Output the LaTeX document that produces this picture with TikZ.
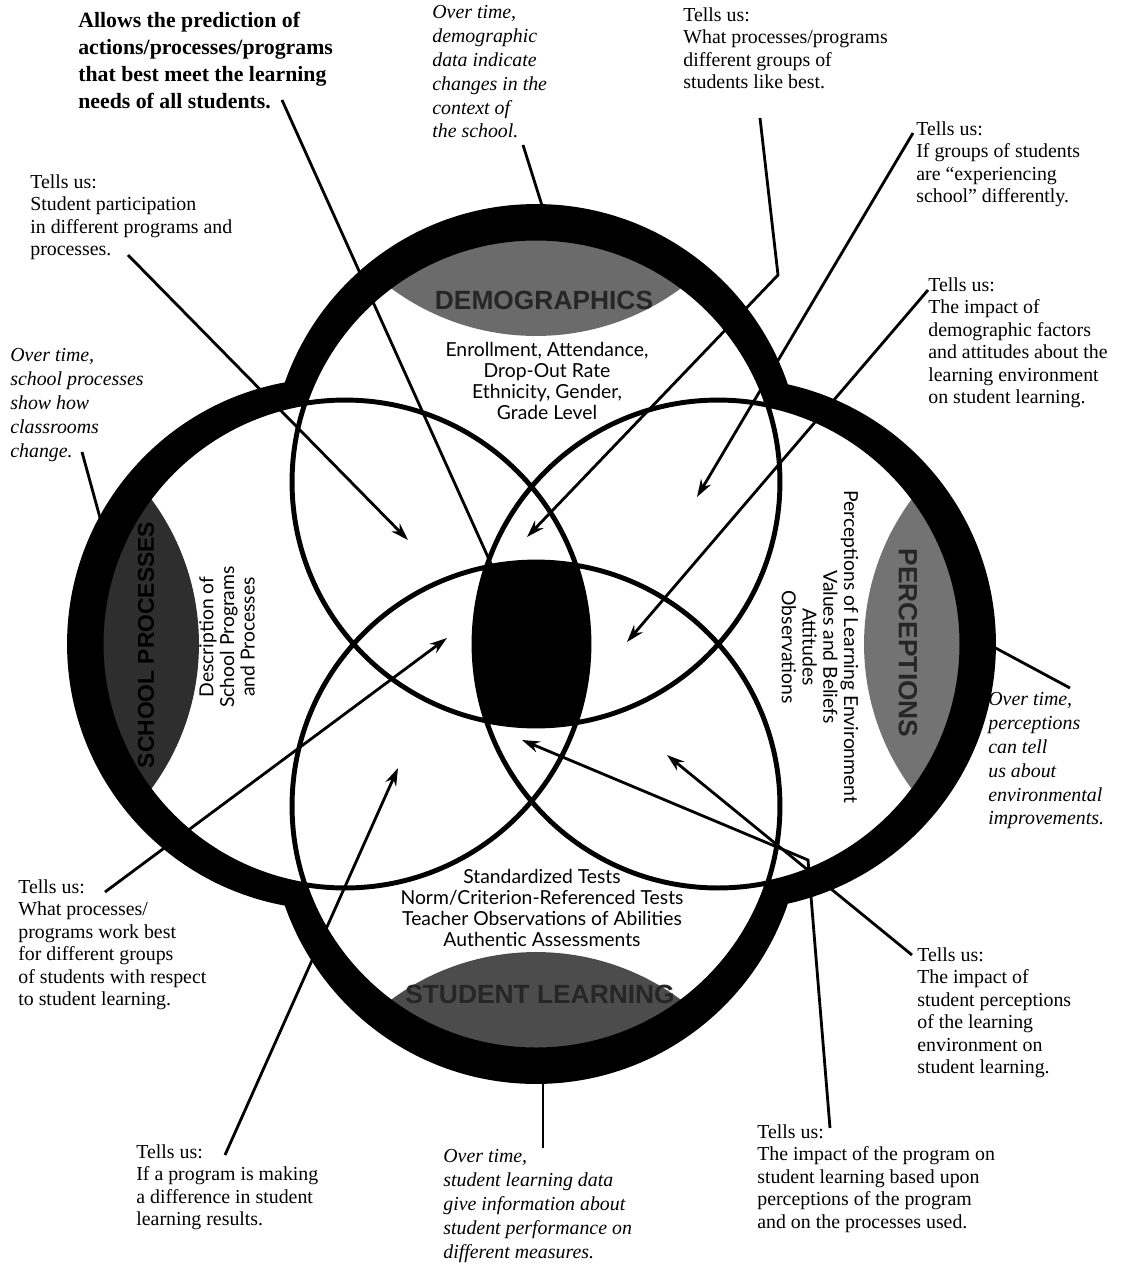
\documentclass[tikz,border=0pt]{standalone}
\usepackage{fontspec}
\setmainfont{Liberation Serif}
\newfontfamily\circfont{Lato}
\newfontfamily\lensfont{Liberation Sans}
\usetikzlibrary{arrows.meta}
\definecolor{DemoGray}{gray}{0.42}
\definecolor{ProcGray}{gray}{0.18}
\definecolor{PercGray}{gray}{0.45}
\definecolor{LearnGray}{gray}{0.3}
\newcommand{\ringr}{4.88cm}
\newcommand{\bandr}{5.32cm}
\tikzset{
  ring/.style={line width=2.8pt},
  predict/.style={anchor=north west,inner sep=0pt,align=left,
    font=\fontsize{12.4}{15.3}\selectfont\bfseries},
  tellus/.style={anchor=north west,inner sep=0pt,align=left,
    font=\fontsize{11.3}{12.8}\selectfont},
  overtime/.style={anchor=north west,inner sep=0pt,align=left,
    font=\fontsize{11.3}{13.6}\selectfont\itshape},
  circtext/.style={inner sep=0pt,align=center,
    font=\circfont\fontsize{11}{11.8}\selectfont},
  lenstext/.style={inner sep=0pt,text=black!85,
    font=\lensfont\bfseries\fontsize{15}{15}\selectfont},
  lead/.style={line width=1.6pt},
  leadarrow/.style={lead,-{Stealth[length=10pt,width=6.5pt]}}
}

\begin{document}
\begin{tikzpicture}[x=0.02cm,y=-0.02cm]
  \useasboundingbox (0,0) rectangle (1143,1275);
  \coordinate (T) at (536,482);
  \coordinate (B) at (536,806);
  \coordinate (L) at (345,644);
  \coordinate (R) at (718,644);
  \coordinate (Tb) at (536,470);
  \coordinate (Bb) at (536,818);
  \coordinate (Lb) at (333,644);
  \coordinate (Rb) at (730,644);
  \coordinate (Tm) at (536,92);
  \coordinate (Bm) at (536,1196);
  \coordinate (Lm) at (-45,644);
  \coordinate (Rm) at (1108,644);

  \fill (Tb) circle[radius=\bandr] (Bb) circle[radius=\bandr]
        (Lb) circle[radius=\bandr] (Rb) circle[radius=\bandr];
  \fill[white] (T) circle[radius=\ringr] (B) circle[radius=\ringr]
        (L) circle[radius=\ringr] (R) circle[radius=\ringr];

  \begin{scope}
    \clip (T) circle[radius=\ringr];
    \fill[DemoGray] (Tm) circle[radius=\ringr];
  \end{scope}
  \begin{scope}
    \clip (B) circle[radius=\ringr];
    \fill[LearnGray] (Bm) circle[radius=\ringr];
  \end{scope}
  \begin{scope}
    \clip (L) circle[radius=\ringr];
    \fill[ProcGray] (Lm) circle[radius=\ringr];
  \end{scope}
  \begin{scope}
    \clip (R) circle[radius=\ringr];
    \fill[PercGray] (Rm) circle[radius=\ringr];
  \end{scope}
  \begin{scope}
    \clip (T) circle[radius=\ringr];
    \clip (B) circle[radius=\ringr];
    \clip (L) circle[radius=\ringr];
    \fill (R) circle[radius=\ringr];
  \end{scope}

  \draw[ring] (T) circle[radius=\ringr] (B) circle[radius=\ringr]
        (L) circle[radius=\ringr] (R) circle[radius=\ringr];

  \node[lenstext] (demotitle) at (544,300) {DEMOGRAPHICS};
  \node[lenstext] (learntitle) at (540,994) {STUDENT LEARNING};
  \node[lenstext,text=black,font=\lensfont\bfseries\fontsize{13}{13}\selectfont,rotate=90]
    (proctitle) at (146,645) {SCHOOL PROCESSES};
  \node[lenstext,rotate=-90] (perctitle) at (908,643) {PERCEPTIONS};

  \node[circtext] (demolist) at (547,381)
    {Enrollment, Attendance,\\Drop-Out Rate\\Ethnicity, Gender,\\Grade Level};
  \node[circtext] (learnlist) at (542,908)
    {Standardized Tests\\Norm/Criterion-Referenced Tests\\Teacher Observations of Abilities\\Authentic Assessments};
  \node[circtext,rotate=90] (proclist) at (227,637)
    {Description of\\School Programs\\and Processes};
  \node[circtext,rotate=-90] (perclist) at (820,647)
    {Perceptions of Learning Environment\\Values and Beliefs\\Attitudes\\Observations};

  \node[predict] (predictlbl) at (78,12)
    {Allows the prediction of\\actions/processes/programs\\that best meet the learning\\needs of all students.};
  \node[overtime] (demoover) at (432,5)
    {Over time,\\demographic\\data indicate\\changes in the\\context of\\the school.};
  \node[tellus] (tellsbest) at (683,7)
    {Tells us:\\What processes/programs\\different groups of\\students like best.};
  \node[tellus] (tellsgroups) at (916,121)
    {Tells us:\\If groups of students\\are “experiencing\\school” differently.};
  \node[tellus] (tellsfactors) at (928,277)
    {Tells us:\\The impact of\\demographic factors\\and attitudes about the\\learning environment\\on student learning.};
  \node[tellus] (tellsparticip) at (30,174)
    {Tells us:\\Student participation\\in different programs and\\processes.};
  \node[overtime] (procover) at (10,348)
    {Over time,\\school processes\\show how\\classrooms\\change.};
  \node[overtime] (percover) at (988,692)
    {Over time,\\perceptions\\can tell\\us about\\environmental\\improvements.};
  \node[tellus] (tellsworkbest) at (18,879)
    {Tells us:\\What processes/\\programs work best\\for different groups\\of students with respect\\to student learning.};
  \node[tellus] (tellsdiff) at (136,1144)
    {Tells us:\\If a program is making\\a difference in student\\learning results.};
  \node[overtime] (learnover) at (443,1149)
    {Over time,\\student learning data\\give information about\\student performance on\\different measures.};
  \node[tellus] (tellsperc) at (917,947)
    {Tells us:\\The impact of\\student perceptions\\of the learning\\environment on\\student learning.};
  \node[tellus] (tellsprogram) at (757,1124)
    {Tells us:\\The impact of the program on\\student learning based upon\\perceptions of the program\\and on the processes used.};

  \coordinate (predictA) at (282,100);
  \coordinate (predictB) at (492,566);
  \coordinate (demoA) at (523,145);
  \coordinate (demoB) at (545,215);
  \coordinate (bestA) at (760,118);
  \coordinate (bestK) at (778,275);
  \coordinate (bestB) at (527,537);
  \coordinate (groupsA) at (913,133);
  \coordinate (groupsB) at (697,497);
  \coordinate (factorsA) at (928,290);
  \coordinate (factorsB) at (627,642);
  \coordinate (participA) at (128,255);
  \coordinate (participB) at (408,540);
  \coordinate (procA) at (82,452);
  \coordinate (procB) at (102,525);
  \coordinate (percA) at (1070,688);
  \coordinate (percB) at (990,645);
  \coordinate (workbestA) at (105,892);
  \coordinate (workbestB) at (447,638);
  \coordinate (diffA) at (225,1155);
  \coordinate (diffB) at (398,768);
  \coordinate (learnA) at (543,1148);
  \coordinate (learnB) at (543,1075);
  \coordinate (percepA) at (912,955);
  \coordinate (percepB) at (667,755);
  \coordinate (programA) at (830,1128);
  \coordinate (programK) at (808,860);
  \coordinate (programB) at (522,740);

  \draw[lead] (predictA) -- (predictB);
  \draw[lead] (demoA) -- (demoB);
  \draw[leadarrow] (bestA) -- (bestK) -- (bestB);
  \draw[leadarrow] (groupsA) -- (groupsB);
  \draw[leadarrow] (factorsA) -- (factorsB);
  \draw[leadarrow] (participA) -- (participB);
  \draw[lead] (procA) -- (procB);
  \draw[lead] (percA) -- (percB);
  \draw[leadarrow] (workbestA) -- (workbestB);
  \draw[leadarrow] (diffA) -- (diffB);
  \draw[lead] (learnA) -- (learnB);
  \draw[leadarrow] (percepA) -- (percepB);
  \draw[leadarrow] (programA) -- (programK) -- (programB);
\end{tikzpicture}
\end{document}
